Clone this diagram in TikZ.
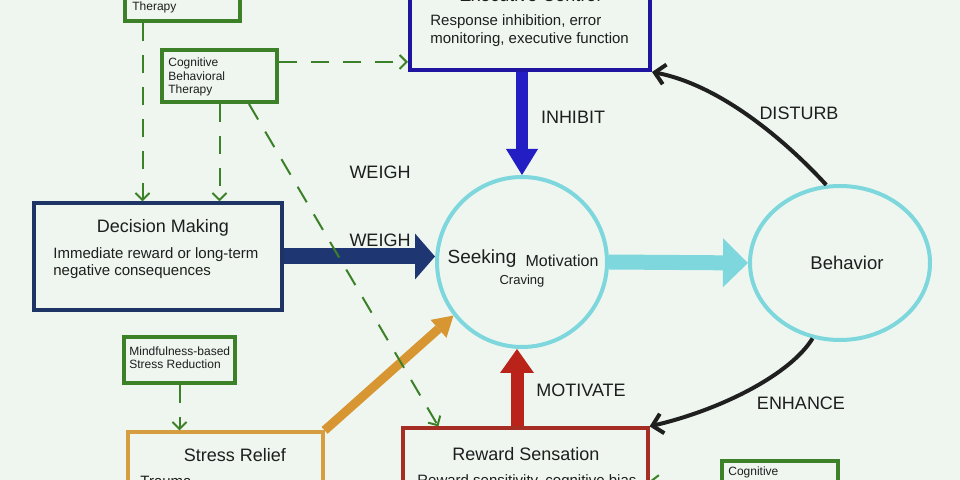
\documentclass[tikz,border=0pt]{standalone}
\usepackage{fontspec}
\setmainfont{Liberation Sans}
\usetikzlibrary{arrows.meta,shapes.geometric,calc}
\definecolor{bg}{RGB}{238,246,239}
\definecolor{grn}{RGB}{60,128,40}
\definecolor{execblue}{RGB}{30,20,160}
\definecolor{inhblue}{RGB}{35,30,195}
\definecolor{navy}{RGB}{30,52,100}
\definecolor{navyarr}{RGB}{30,55,115}
\definecolor{cyanc}{RGB}{125,215,220}
\definecolor{orng}{RGB}{215,150,50}
\definecolor{orngbox}{RGB}{215,158,65}
\definecolor{redarr}{RGB}{185,35,25}
\definecolor{redbox}{RGB}{165,45,35}
\definecolor{txt}{RGB}{30,30,30}
\begin{document}
\begin{tikzpicture}[x=0.5pt,y=-0.5pt,
  box/.style={draw, rectangle, inner sep=0pt, line width=1.6pt},
  gbox/.style={box, draw=grn, line width=2pt},
  ring/.style={draw=cyanc, line width=2pt, inner sep=0pt},
  tx/.style={inner sep=0pt, text=txt},
  small/.style={tx, anchor=west, font=\fontsize{6}{7}\selectfont},
  desc/.style={tx, anchor=west, font=\fontsize{7.5}{9}\selectfont},
  ttl/.style={tx, font=\fontsize{9}{11}\selectfont},
  lab/.style={tx, font=\fontsize{9}{11}\selectfont},
  gdash/.style={draw=grn, line width=1pt, dash pattern=on 9pt off 7pt, -{Straight Barb[length=3.5pt,width=7pt]}},
  curv/.style={draw=black!88, line width=2pt, -{Straight Barb[length=5pt,width=10pt]}},
  weigharr/.style={draw=navyarr, fill=navyarr, line width=8pt, -{Triangle[length=10pt,width=23pt,line width=0pt]}},
  cyanarr/.style={draw=cyanc, fill=cyanc, line width=7.5pt, -{Triangle[length=12.5pt,width=24.5pt,line width=0pt]}},
  inharr/.style={draw=inhblue, fill=inhblue, line width=6pt, -{Triangle[length=13pt,width=16pt,line width=0pt]}},
  motarr/.style={draw=redarr, fill=redarr, line width=6.5pt, -{Triangle[length=12pt,width=17pt,line width=0pt]}},
  orarr/.style={draw=orng, fill=orng, line width=4.5pt, -{Triangle[length=10pt,width=12pt,line width=0pt]}}
]
\useasboundingbox (0,0) rectangle (960,480);
\clip (0,0) rectangle (960,480);
\fill[bg] (-10,-10) rectangle (970,490);

% boxes
\node[gbox, minimum width=57.5pt, minimum height=30pt] (tl) at (182.5,-9) {};
\node[gbox, minimum width=57.5pt, minimum height=26pt] (cbt) at (219.5,76) {};
\node[box, draw=execblue, line width=2pt, minimum width=120pt, minimum height=55pt] (exec) at (530,15) {};
\node[box, draw=navy, minimum width=124pt, minimum height=53.5pt] (dec) at (158,256.5) {};
\node[gbox, minimum width=55.5pt, minimum height=23pt] (mbsr) at (179.5,360) {};
\node[box, draw=orngbox, minimum width=97.5pt, minimum height=44pt] (stress) at (225.5,476) {};
\node[box, draw=redbox, minimum width=122.5pt, minimum height=46pt] (reward) at (525.5,474) {};
\node[gbox, minimum width=58pt, minimum height=29.5pt] (cog2) at (780,490.5) {};
\node[ring, circle, minimum size=85pt] (seek) at (522,262) {};
\node[ring, ellipse, minimum width=90pt, minimum height=77pt] (beh) at (840,263) {};

% texts
\node[small] (tlt) at (132,7) {Therapy};
\node[small] (cbt1) at (168,63) {Cognitive};
\node[small] (cbt2) at (168,76) {Behavioral};
\node[small] (cbt3) at (168,90) {Therapy};
\node[ttl] (exect) at (530,-5) {Executive Control};
\node[desc] (exec1) at (430,22) {Response inhibition, error};
\node[desc] (exec2) at (430,40) {monitoring, executive function};
\node[ttl] (dect) at (163,228) {Decision Making};
\node[desc] (dec1) at (53,255) {Immediate reward or long-term};
\node[desc] (dec2) at (53,272) {negative consequences};
\node[small] (mb1) at (129,351) {Mindfulness-based};
\node[small] (mb2) at (129,364) {Stress Reduction};
\node[ttl] (strt) at (235,455) {Stress Relief};
\node[desc] (str1) at (140,481) {Trauma};
\node[ttl] (rewt) at (526,454) {Reward Sensation};
\node[desc] (rew1) at (417,482) {Reward sensitivity, cognitive bias};
\node[small] (cog2t) at (728,472) {Cognitive};
\node[tx, font=\fontsize{9.5}{11}\selectfont] (seek1) at (482,259) {Seeking};
\node[tx, font=\fontsize{8}{10}\selectfont] (seek2) at (562,261) {Motivation};
\node[tx, font=\fontsize{6.5}{8}\selectfont] (seek3) at (522,281) {Craving};
\node[tx, font=\fontsize{9.25}{11}\selectfont] (beht) at (847,263) {Behavior};

% labels
\node[lab] (w1) at (380,172) {WEIGH};
\node[lab] (w2) at (380,240) {WEIGH};
\node[lab] (inh) at (573,117) {INHIBIT};
\node[lab] (dis) at (799,113) {DISTURB};
\node[lab] (enh) at (801,403) {ENHANCE};
\node[lab] (mot) at (581,390) {MOTIVATE};

% thick arrows
\draw[weigharr] (dec.east) -- (dec.east -| seek.west);
\draw[cyanarr] (seek.east) -- (beh.west);
\draw[inharr] (seek.north |- exec.south) -- (seek.north);
\coordinate (mtop) at ([xshift=-2.5pt]seek.south);
\draw[motarr] (mtop |- reward.north) -- (mtop);
\draw[orarr] (stress.north east) -- (seek.218);

% curved arrows
\draw[curv] (beh.100) .. controls (785,140) and (720,85) .. (exec.south east);
\draw[curv] (beh.250) .. controls (790,375) and (720,410) .. (reward.north east);

% green dashed arrows
\draw[gdash] ([xshift=-20pt]tl.south) -- ([xshift=-20pt]tl.south |- dec.north);
\draw[gdash] (cbt.south) -- (cbt.south |- dec.north);
\draw[gdash] ([yshift=7pt]cbt.east) -- ([yshift=7pt]cbt.east -| exec.west);
\draw[gdash] ([xshift=-15pt]cbt.south east) -- ([xshift=18.5pt]reward.north west);
\draw[gdash] (mbsr.south) -- (mbsr.south |- stress.north);
\draw[gdash] (cog2.west) -- ([yshift=-3.5pt]reward.east);
\end{tikzpicture}
\end{document}
